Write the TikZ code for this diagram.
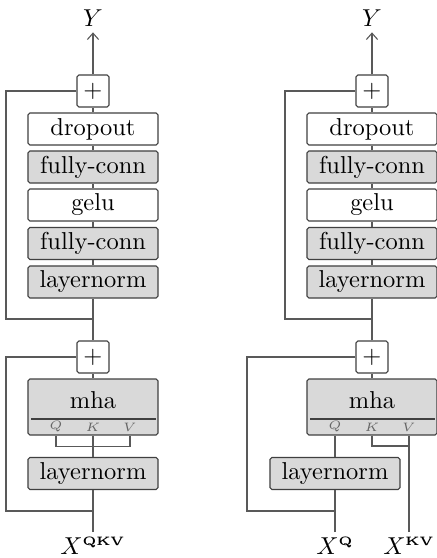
\documentclass[tikz,border=0pt]{standalone}
\usetikzlibrary{calc,arrows.meta}
\begin{document}
\begin{tikzpicture}[x=0.409pt,y=-0.409pt,
  conn/.style={draw=black!65, line width=0.45pt},
  arr/.style={conn, -{Straight Barb[length=2.6pt,width=4.6pt]}},
  blk/.style={draw=black!75, rounded corners=0.8pt, minimum width=53.2pt, minimum height=13.1pt, inner sep=0pt, line width=0.45pt},
  wblk/.style={blk, fill=white},
  gblk/.style={blk, fill=black!15},
  plusbox/.style={blk, fill=white, minimum width=13.1pt},
  qkv/.style={text=black!60, inner sep=0pt},
  lbl/.style={inner sep=0pt, anchor=base}]
\useasboundingbox (0,0) rectangle (436,558);

% ---------------- left block ----------------
\node[lbl, inner sep=2.4pt] (Ya) at (93,26) {$Y$};
\node[plusbox] (pa1) at (93,91) {$+$};
\node[wblk] (dra) at (93,129) {dropout};
\node[gblk] (fca1) at (93,167) {fully-conn};
\node[wblk] (gea) at (93,205) {gelu};
\node[gblk] (fca2) at (93,243.5) {fully-conn};
\node[gblk] (lna1) at (93,282) {layernorm};
\node[plusbox] (pa2) at (93,357) {$+$};
\node[gblk, minimum height=22.9pt] (mhaa) at (93,407) {};
\node (mhta) at (93,400) {mha};
\draw[black!75, line width=0.45pt] (31,419) -- (156,419);
\node[qkv] (qa) at (56,427) {$\scriptscriptstyle Q$};
\node[qkv] (ka) at (93,427) {$\scriptscriptstyle K$};
\node[qkv] (va) at (130,427) {$\scriptscriptstyle V$};
\node[gblk] (lna2) at (93,473.5) {layernorm};
\coordinate (xa) at (93,532);
\node[lbl] (Xa) at (93,554) {$X^{\scriptscriptstyle\mathbf{QKV}}$};
\coordinate (sa1) at (93,319);
\coordinate (sa2) at (93,511);

\draw[conn] (xa) -- (lna2.south);
\draw[conn] (lna2.north) -- (ka |- mhaa.south);
\draw[conn] (qa |- mhaa.south) -- ++(0,11) -| (va |- mhaa.south);
\draw[conn] (mhaa.north) -- (pa2.south);
\draw[conn] (pa2.north) -- (lna1.south);
\draw[conn] (lna1.north) -- (fca2.south);
\draw[conn] (fca2.north) -- (gea.south);
\draw[conn] (gea.north) -- (fca1.south);
\draw[conn] (fca1.north) -- (dra.south);
\draw[conn] (dra.north) -- (pa1.south);
\draw[arr] (pa1.north) -- (Ya.south);
\draw[conn] (sa1) -- ++(-87,0) |- (pa1.west);
\draw[conn] (sa2) -- ++(-87,0) |- (pa2.west);

% ---------------- right block ----------------
\node[lbl, inner sep=2.4pt] (Yb) at (372,26) {$Y$};
\node[plusbox] (pb1) at (372,91) {$+$};
\node[wblk] (drb) at (372,129) {dropout};
\node[gblk] (fcb1) at (372,167) {fully-conn};
\node[wblk] (geb) at (372,205) {gelu};
\node[gblk] (fcb2) at (372,243.5) {fully-conn};
\node[gblk] (lnb1) at (372,282) {layernorm};
\node[plusbox] (pb2) at (372,357) {$+$};
\node[gblk, minimum height=22.9pt] (mhab) at (372,407) {};
\node (mhtb) at (372,400) {mha};
\draw[black!75, line width=0.45pt] (310,419) -- (435,419);
\node[qkv] (qb) at (335,427) {$\scriptscriptstyle Q$};
\node[qkv] (kb) at (372,427) {$\scriptscriptstyle K$};
\node[qkv] (vb) at (409,427) {$\scriptscriptstyle V$};
\node[gblk] (lnb2) at (335,473.5) {layernorm};
\coordinate (xq) at (335,532);
\coordinate (xkv) at (409,532);
\coordinate (jkv) at (409,446);
\node[lbl] (Xq) at (335,554) {$X^{\scriptscriptstyle\mathbf{Q}}$};
\node[lbl] (Xkv) at (409,554) {$X^{\scriptscriptstyle\mathbf{KV}}$};
\coordinate (sb1) at (372,319);
\coordinate (sb2) at (335,511);

\draw[conn] (xq) -- (lnb2.south);
\draw[conn] (lnb2.north) -- (qb |- mhab.south);
\draw[conn] (xkv) -- (vb |- mhab.south);
\draw[conn] (kb |- mhab.south) |- (jkv);
\draw[conn] (mhab.north) -- (pb2.south);
\draw[conn] (pb2.north) -- (lnb1.south);
\draw[conn] (lnb1.north) -- (fcb2.south);
\draw[conn] (fcb2.north) -- (geb.south);
\draw[conn] (geb.north) -- (fcb1.south);
\draw[conn] (fcb1.north) -- (drb.south);
\draw[conn] (drb.north) -- (pb1.south);
\draw[arr] (pb1.north) -- (Yb.south);
\draw[conn] (sb1) -- ++(-87,0) |- (pb1.west);
\draw[conn] (sb2) -- ++(-88,0) |- (pb2.west);
\end{tikzpicture}
\end{document}
